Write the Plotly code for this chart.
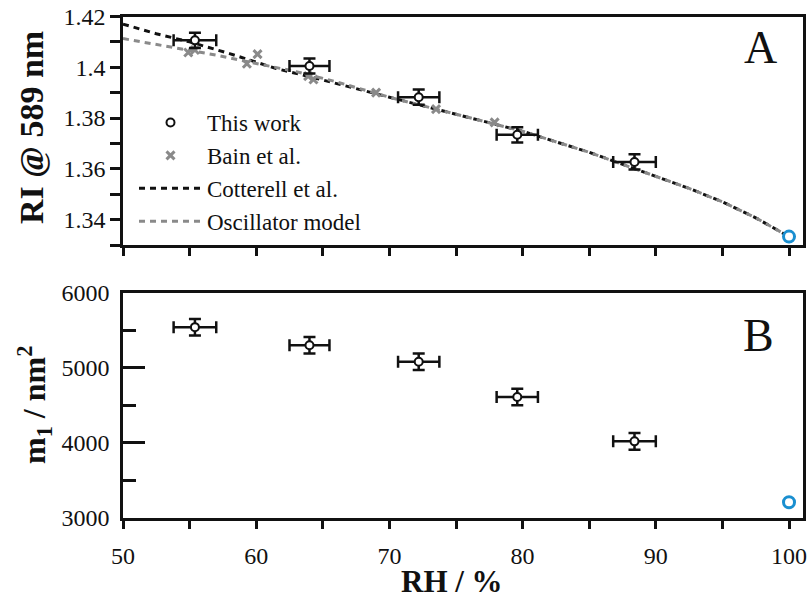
import plotly.graph_objects as go

# ---- data ----
rh_this = [55.4, 64.0, 72.2, 79.6, 88.4]
rh_this_err = [1.6, 1.5, 1.55, 1.55, 1.6]
ri_this = [1.4106, 1.4005, 1.3882, 1.3734, 1.3627]
ri_this_err = [0.003, 0.003, 0.003, 0.003, 0.003]
m1_this = [5540, 5300, 5080, 4610, 4020]
m1_this_err = [110, 110, 110, 110, 110]

rh_bain = [54.9, 55.4, 59.3, 60.1, 63.9, 64.3, 69.0, 73.5, 77.9]
ri_bain = [1.4058, 1.4068, 1.4014, 1.4052, 1.3965, 1.3952, 1.3900, 1.3835, 1.3783]

rh_cott = [50, 52.5, 55, 58, 61.5, 65, 70, 75, 80, 85, 90, 92.5, 95, 97.5, 100]
ri_cott = [1.4170, 1.4132, 1.4100, 1.4054, 1.3995, 1.3950, 1.3882, 1.3815, 1.3748, 1.3665,
           1.3572, 1.3523, 1.3470, 1.3407, 1.3333]

rh_osc = [50, 53.5, 57, 60, 63, 66, 70, 75, 80, 85, 90, 92.5, 95, 97.5, 100]
ri_osc = [1.4113, 1.4080, 1.4048, 1.4015, 1.3983, 1.3943, 1.3882, 1.3815, 1.3748, 1.3665,
          1.3572, 1.3523, 1.3470, 1.3407, 1.3333]

rh_water = [100]
ri_water = [1.3333]
m1_water = [3210]

x_ticks = [50, 60, 70, 80, 90, 100]
x_minor = [55, 65, 75, 85, 95]
ri_ticks = [1.34, 1.36, 1.38, 1.40, 1.42]
ri_ticktext = ["1.34", "1.36", "1.38", "1.4", "1.42"]
ri_minor = [1.33, 1.35, 1.37, 1.39, 1.41]
m1_ticks = [3000, 4000, 5000, 6000]
m1_minor = [3500, 4500, 5500]

FONT = "Liberation Serif, Times New Roman, Times, serif"
BLACK = "#111111"
GRAY = "#8a8a8a"
BLUE = "#1a8fd0"

fig = go.Figure()

# top panel
fig.add_trace(go.Scatter(x=rh_cott, y=ri_cott, mode="lines", name="Cotterell et al.",
                         line=dict(color=BLACK, width=3, dash="6px,5px"), legendrank=3,
                         xaxis="x", yaxis="y"))
fig.add_trace(go.Scatter(x=rh_osc, y=ri_osc, mode="lines", name="Oscillator model",
                         line=dict(color=GRAY, width=3, dash="6px,5px"), legendrank=4,
                         xaxis="x", yaxis="y"))
fig.add_trace(go.Scatter(x=rh_bain, y=ri_bain, mode="markers", name="Bain et al.",
                         marker=dict(symbol="x-thin", size=8, color=GRAY,
                                     line=dict(color=GRAY, width=3)), legendrank=2,
                         xaxis="x", yaxis="y"))
fig.add_trace(go.Scatter(x=rh_this, y=ri_this, mode="markers", name="This work",
                         marker=dict(symbol="circle", size=8, color="white",
                                     line=dict(color=BLACK, width=2)),
                         error_x=dict(type="data", array=rh_this_err, color=BLACK, thickness=2.5, width=6),
                         error_y=dict(type="data", array=ri_this_err, color=BLACK, thickness=2.5, width=6),
                         legendrank=1, xaxis="x", yaxis="y"))
fig.add_trace(go.Scatter(x=rh_water, y=ri_water, mode="markers", showlegend=False,
                         marker=dict(symbol="circle", size=11, color="white",
                                     line=dict(color=BLUE, width=3)),
                         cliponaxis=False, xaxis="x", yaxis="y"))

# bottom panel
fig.add_trace(go.Scatter(x=rh_this, y=m1_this, mode="markers", showlegend=False,
                         marker=dict(symbol="circle", size=8, color="white",
                                     line=dict(color=BLACK, width=2)),
                         error_x=dict(type="data", array=rh_this_err, color=BLACK, thickness=2.5, width=6),
                         error_y=dict(type="data", array=m1_this_err, color=BLACK, thickness=2.5, width=6),
                         xaxis="x2", yaxis="y2"))
fig.add_trace(go.Scatter(x=rh_water, y=m1_water, mode="markers", showlegend=False,
                         marker=dict(symbol="circle", size=11, color="white",
                                     line=dict(color=BLUE, width=3)),
                         cliponaxis=False, xaxis="x2", yaxis="y2"))

W, H = 812, 598
xdom = [123 / W, 803 / W]
ydom_top = [1 - 245 / H, 1 - 16.5 / H]
ydom_bot = [1 - 518 / H, 1 - 292.6 / H]
XR = [50, 101.05]

tickfont = dict(family=FONT, size=24, color=BLACK)
common_x = dict(range=XR, tickvals=x_ticks, ticks="outside", ticklen=8, tickwidth=2.5,
                minor=dict(tickvals=x_minor, ticks="outside", ticklen=8, tickwidth=2.5, tickcolor=BLACK),
                tickcolor=BLACK, showline=True, linecolor=BLACK, linewidth=2.5, mirror=True,
                showgrid=False, zeroline=False, tickfont=tickfont, domain=xdom, automargin=False)

fig.update_layout(
    width=W, height=H,
    margin=dict(l=0, r=0, t=0, b=0, pad=0, autoexpand=False),
    paper_bgcolor="white", plot_bgcolor="white",
    font=dict(family=FONT, color=BLACK),
    xaxis=dict(**common_x, anchor="y", showticklabels=False),
    yaxis=dict(domain=ydom_top, range=[1.33, 1.42], tickvals=ri_ticks, ticktext=ri_ticktext,
               ticks="outside", ticklen=10, tickwidth=2.5, tickcolor=BLACK,
               minor=dict(tickvals=ri_minor, ticks="outside", ticklen=10, tickwidth=2.5, tickcolor=BLACK),
               showline=True, linecolor=BLACK, linewidth=2.5, mirror=True, automargin=False,
               showgrid=False, zeroline=False, tickfont=tickfont, anchor="x"),
    xaxis2=dict(**common_x, anchor="y2", ticklabelstandoff=6),
    yaxis2=dict(domain=ydom_bot, range=[3000, 6000], tickvals=m1_ticks,
                ticks="inside", ticklen=22, tickwidth=2.5, tickcolor=BLACK,
                minor=dict(tickvals=m1_minor, ticks="inside", ticklen=13, tickwidth=2.5, tickcolor=BLACK),
                showline=True, linecolor=BLACK, linewidth=2.5, mirror=True, automargin=False,
                ticklabelstandoff=6,
                showgrid=False, zeroline=False, tickfont=tickfont, anchor="x2"),
    showlegend=True,
    legend=dict(x=134 / W, y=1 - 101 / H, xanchor="left", yanchor="top",
                bgcolor="rgba(0,0,0,0)", font=dict(family=FONT, size=23, color=BLACK),
                itemwidth=63, tracegroupgap=0),
    annotations=[
        dict(text="A", x=760 / W, y=1 - 47 / H, xref="paper", yref="paper", showarrow=False,
             font=dict(family=FONT, size=46, color=BLACK), xanchor="center", yanchor="middle"),
        dict(text="B", x=758 / W, y=1 - 335 / H, xref="paper", yref="paper", showarrow=False,
             font=dict(family=FONT, size=46, color=BLACK), xanchor="center", yanchor="middle"),
        dict(text="<b>RH / %</b>", x=452 / W, y=1 - 581 / H, xref="paper", yref="paper", showarrow=False,
             font=dict(family=FONT, size=31, color=BLACK), xanchor="center", yanchor="middle"),
        dict(text="<b>RI @ 589 nm</b>", x=32 / W, y=1 - 128 / H, xref="paper", yref="paper", showarrow=False,
             textangle=-90, font=dict(family=FONT, size=34, color=BLACK), xanchor="center", yanchor="middle"),
        dict(text="<b>m<sub>1</sub> / nm<sup>2</sup></b>", x=34 / W, y=1 - 405 / H, xref="paper", yref="paper",
             showarrow=False, textangle=-90, font=dict(family=FONT, size=32, color=BLACK),
             xanchor="center", yanchor="middle"),
    ],
)

fig.write_html("out.html")
